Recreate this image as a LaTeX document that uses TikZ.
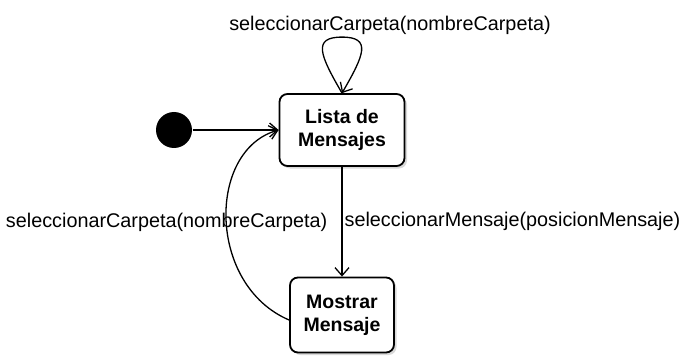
\documentclass[tikz,border=0pt]{standalone}
\usepackage{fontspec}
\setmainfont{Liberation Sans}
\usetikzlibrary{arrows.meta,shadows}

\begin{document}
\begin{tikzpicture}[x=1pt,y=-1pt,line width=1.3pt,>={Straight Barb[length=8pt,width=14pt]},
  estado/.style={draw,line width=1.8pt,rounded corners=8pt,fill=white,align=center,
    font=\fontsize{19.5}{23}\selectfont\bfseries,
    drop shadow={shadow xshift=2.5pt,shadow yshift=-2.5pt,opacity=.3}},
  etiqueta/.style={font=\fontsize{19.8}{23}\selectfont,inner sep=2pt}]
  \useasboundingbox (0,0) rectangle (681,361);
  \node[circle,fill=black,minimum size=36pt,inner sep=0pt] (inicio) at (174,130) {};
  \node[estado,minimum width=125pt,minimum height=72pt] (lista) at (342,130) {Lista de\\Mensajes};
  \node[estado,minimum width=104pt,minimum height=75pt] (mostrar) at (342,315) {Mostrar\\Mensaje};
  \draw[->] (inicio) -- (lista.west);
  % bucle sobre la lista
  \draw[->] (lista.north) .. controls +(-22,-38) and +(-30,0) .. ++(0,-56) coordinate (cima)
    node[etiqueta,above,xshift=48pt]{seleccionarCarpeta(nombreCarpeta)}
    .. controls +(30,0) and +(22,-38) .. (lista.north);
  \draw[->] (lista.south) -- (mostrar.north)
    node[etiqueta,midway,right]{seleccionarMensaje(posicionMensaje)};
  \draw[->] ([yshift=-5pt]mostrar.west) .. controls (207,285) and (207,150) .. (lista.west);
  \node[etiqueta,anchor=east] (volver) at (330,222) {seleccionarCarpeta(nombreCarpeta)};
\end{tikzpicture}
\end{document}
